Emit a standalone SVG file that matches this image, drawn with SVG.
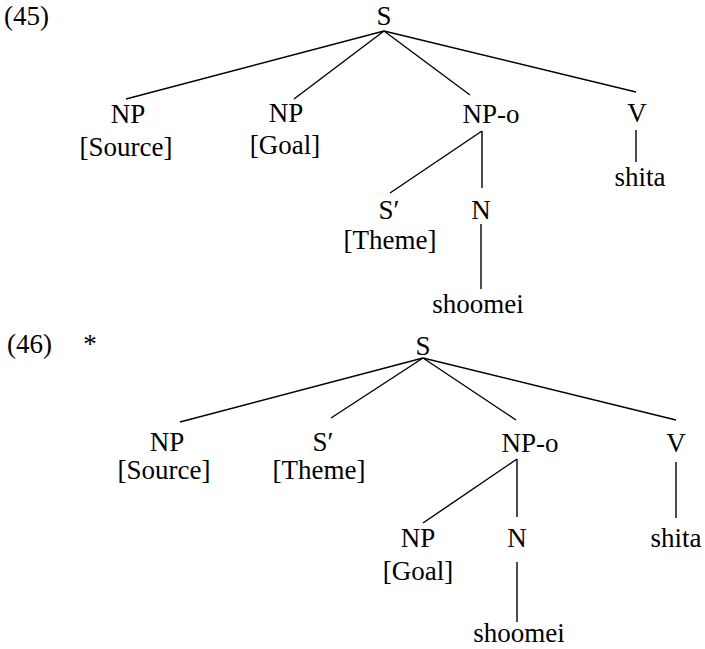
<svg xmlns="http://www.w3.org/2000/svg" width="705" height="649" viewBox="0 0 705 649">
<style>
text{font-family:"Liberation Serif","Times New Roman",serif;font-size:27px;fill:#000;text-anchor:middle}
.l{text-anchor:start}
#connectors line{stroke:#000;stroke-width:1.4;fill:none}
</style>
<rect width="705" height="649" fill="#fff"/>
<g id="connectors">
<line x1="384" y1="31" x2="126" y2="99"/>
<line x1="384" y1="31" x2="294" y2="99"/>
<line x1="384" y1="31" x2="470" y2="95"/>
<line x1="384" y1="31" x2="636" y2="92"/>
<line x1="636" y1="130" x2="636" y2="162"/>
<line x1="482" y1="131" x2="390" y2="193"/>
<line x1="482" y1="131" x2="482" y2="188"/>
<line x1="481" y1="224" x2="481" y2="289"/>
<line x1="423" y1="358" x2="180" y2="422"/>
<line x1="423" y1="358" x2="331" y2="418"/>
<line x1="423" y1="358" x2="516" y2="420"/>
<line x1="423" y1="358" x2="676" y2="420"/>
<line x1="676" y1="462" x2="676" y2="518"/>
<line x1="517" y1="459" x2="423" y2="523"/>
<line x1="517" y1="459" x2="517" y2="517"/>
<line x1="517" y1="562" x2="517" y2="622"/>
</g>
<g id="label45"><text class="l" x="4" y="25">(45)</text></g>
<g id="t45-S"><text x="384" y="25">S</text></g>
<g id="t45-NP1"><text x="128" y="123">NP</text><text x="126" y="156">[Source]</text></g>
<g id="t45-NP2"><text x="286" y="122">NP</text><text x="285" y="154">[Goal]</text></g>
<g id="t45-NPo"><text x="491" y="123">NP-o</text></g>
<g id="t45-V"><text x="637" y="122">V</text></g>
<g id="t45-shita"><text x="640" y="186">shita</text></g>
<g id="t45-Sbar"><text x="389" y="219">S′</text><text x="390" y="249">[Theme]</text></g>
<g id="t45-N"><text x="481" y="219">N</text></g>
<g id="t45-shoomei"><text x="478" y="313">shoomei</text></g>
<g id="label46"><text class="l" x="7" y="353">(46)</text><text x="90" y="353">*</text></g>
<g id="t46-S"><text x="423" y="355">S</text></g>
<g id="t46-NP1"><text x="167" y="451">NP</text><text x="164" y="479">[Source]</text></g>
<g id="t46-Sbar"><text x="323" y="451">S′</text><text x="319" y="479">[Theme]</text></g>
<g id="t46-NPo"><text x="530" y="452">NP-o</text></g>
<g id="t46-V"><text x="676" y="452">V</text></g>
<g id="t46-shita"><text x="676" y="547">shita</text></g>
<g id="t46-NP2"><text x="418" y="547">NP</text><text x="418" y="580">[Goal]</text></g>
<g id="t46-N"><text x="517" y="547">N</text></g>
<g id="t46-shoomei"><text x="519" y="642">shoomei</text></g>
</svg>
